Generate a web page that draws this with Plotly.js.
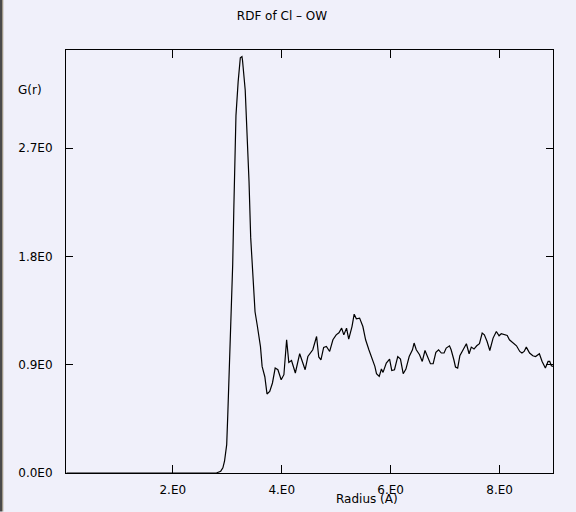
<!DOCTYPE html>
<html>
<head>
<meta charset="utf-8">
<script src="https://cdn.plot.ly/plotly-3.0.1.min.js"></script>
<style>
html,body{margin:0;padding:0;background:#f0f0fa;}
#chart{width:576px;height:512px;}
</style>
</head>
<body>
<div id="chart"></div>
<script>
// Radius (Å) and G(r) values
var radius = [0.05, 0.50, 1.00, 1.50, 2.00, 2.50, 2.80, 2.88, 2.92, 2.95, 2.99, 3.01, 3.04, 3.08, 3.10, 3.12,
  3.14, 3.16, 3.20, 3.24, 3.27, 3.28, 3.33, 3.35, 3.38, 3.40, 3.43, 3.46, 3.47, 3.50, 3.51, 3.55, 3.58,
  3.61, 3.64, 3.69, 3.73, 3.78, 3.83, 3.88, 3.93, 3.99, 4.04, 4.09, 4.13, 4.18, 4.25, 4.33, 4.43, 4.48,
  4.57, 4.64, 4.68, 4.72, 4.77, 4.82, 4.88, 4.94, 5.00, 5.05, 5.10, 5.14, 5.19, 5.23, 5.29, 5.33, 5.37,
  5.43, 5.49, 5.54, 5.60, 5.65, 5.71, 5.74, 5.79, 5.83, 5.86, 5.92, 5.98, 6.02, 6.07, 6.13, 6.18, 6.23,
  6.28, 6.34, 6.40, 6.43, 6.47, 6.53, 6.58, 6.63, 6.68, 6.73, 6.78, 6.83, 6.88, 6.93, 6.98, 7.02, 7.08,
  7.11, 7.16, 7.19, 7.23, 7.27, 7.33, 7.39, 7.44, 7.48, 7.53, 7.58, 7.63, 7.68, 7.72, 7.77, 7.82, 7.88,
  7.94, 7.99, 8.03, 8.09, 8.14, 8.18, 8.24, 8.31, 8.37, 8.41, 8.45, 8.49, 8.55, 8.61, 8.66, 8.73, 8.78,
  8.84, 8.89, 8.92, 8.95, 8.98];
var gr = [0, 0, 0, 0, 0, 0, 0, 0.015, 0.043, 0.098, 0.236, 0.485, 0.90, 1.40, 1.73, 2.18,
  2.54, 2.97, 3.25, 3.45, 3.46, 3.43, 3.18, 2.99, 2.68, 2.42, 1.96, 1.75, 1.60, 1.40, 1.34, 1.23, 1.15,
  1.05, 0.886, 0.80, 0.657, 0.678, 0.748, 0.872, 0.858, 0.775, 0.817, 1.107, 0.919, 0.935, 0.831, 0.991, 0.858, 0.968,
  1.024, 1.134, 0.964, 0.941, 1.043, 1.051, 1.01, 1.107, 1.148, 1.165, 1.204, 1.148, 1.204, 1.113, 1.217, 1.32, 1.281,
  1.287, 1.217, 1.107, 1.024, 0.964, 0.886, 0.825, 0.803, 0.864, 0.836, 0.914, 0.947, 0.852, 0.858, 0.968, 0.947, 0.825,
  0.864, 0.968, 1.024, 1.08, 1.024, 0.983, 0.927, 1.018, 0.955, 0.908, 0.908, 1.002, 1.024, 0.997, 0.997, 1.038, 1.057,
  1.024, 0.941, 0.881, 0.872, 0.974, 1.024, 1.074, 0.991, 1.046, 1.03, 1.057, 1.074, 1.163, 1.148, 1.093, 1.018, 1.121,
  1.176, 1.14, 1.157, 1.148, 1.143, 1.107, 1.08, 1.057, 1.01, 0.997, 1.01, 1.046, 0.997, 0.974, 0.968, 0.991, 0.927,
  0.872, 0.927, 0.927, 0.891, 0.886];

var xTickVals = [2, 4, 6, 8];
var xTickText = ['2.E0', '4.E0', '6.E0', '8.E0'];
var yTickVals = [0, 0.9, 1.8, 2.7];
var yTickText = ['0.0E0', '0.9E0', '1.8E0', '2.7E0'];

var bg = '#f0f0fa';
var fontFam = 'DejaVu Sans, sans-serif';

var trace = {
  x: radius, y: gr, type: 'scatter', mode: 'lines',
  line: {color: '#000000', width: 1.2},
  hoverinfo: 'skip'
};

// pixel helpers for decorations (plot area: l=66, r=553, t=50, b=473.5)
function px2x(p){ return (p - 66) / 487; }
function py2y(p){ return (473.5 - p) / 423.5; }

var layout = {
  width: 576, height: 512,
  paper_bgcolor: bg, plot_bgcolor: bg,
  margin: {l: 66, r: 23, t: 50, b: 38.5, pad: 0},
  showlegend: false,
  font: {family: fontFam, size: 12, color: '#000000'},
  title: {text: 'RDF of Cl \u2013 OW', font: {family: fontFam, size: 12, color: '#000'},
          xref: 'container', yref: 'container', x: 282/576, xanchor: 'center', y: 1 - 15.5/512, yanchor: 'middle'},
  xaxis: {
    range: [0.04, 8.98], tickvals: xTickVals, ticktext: xTickText,
    ticks: 'inside', ticklen: 8, tickcolor: '#000', tickwidth: 1,
    showline: true, linecolor: '#000', linewidth: 1, mirror: 'ticks',
    showgrid: false, zeroline: false, ticklabelstandoff: 6,
    tickfont: {family: fontFam, size: 12, color: '#000'}
  },
  yaxis: {
    range: [0, 3.515], tickvals: yTickVals, ticktext: yTickText,
    ticks: 'inside', ticklen: 7, tickcolor: '#000', tickwidth: 1,
    showline: true, linecolor: '#000', linewidth: 1, mirror: 'ticks',
    showgrid: false, zeroline: false, ticklabelstandoff: 10,
    tickfont: {family: fontFam, size: 12, color: '#000'}
  },
  annotations: [
    {text: 'G(r)', xref: 'paper', yref: 'paper', x: px2x(30), y: py2y(90), xanchor: 'center', yanchor: 'middle',
     showarrow: false, font: {family: fontFam, size: 12, color: '#000'}},
    {text: 'Radius (A)', xref: 'paper', yref: 'paper', x: px2x(367), y: py2y(500), xanchor: 'center', yanchor: 'middle',
     showarrow: false, font: {family: fontFam, size: 12, color: '#000'}}
  ],
  shapes: [
    {type: 'rect', xref: 'paper', yref: 'paper', x0: px2x(0), x1: px2x(2), y0: py2y(512), y1: py2y(0),
     fillcolor: '#4a4a4a', line: {width: 0}, layer: 'above'},
    {type: 'rect', xref: 'paper', yref: 'paper', x0: px2x(2), x1: px2x(3.3), y0: py2y(512), y1: py2y(0),
     fillcolor: '#a09888', line: {width: 0}, layer: 'above'}
  ]
};

Plotly.newPlot('chart', [trace], layout, {staticPlot: true, displayModeBar: false});
</script>
</body>
</html>
